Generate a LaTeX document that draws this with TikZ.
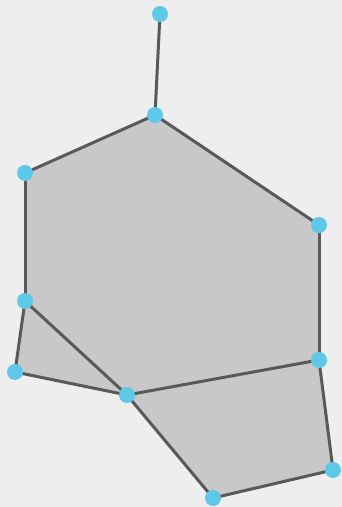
\documentclass[tikz,border=0pt]{standalone}
\begin{document}
\begin{tikzpicture}[x=1pt,y=-1pt,
  vtx/.style={circle,fill=vcol,draw=none,minimum size=16pt,inner sep=0pt},
  edge/.style={draw=ecol,line width=3pt},
  face/.style={fill=fcol,draw=none}]
\definecolor{vcol}{HTML}{5EC8E8}
\definecolor{ecol}{HTML}{595959}
\definecolor{fcol}{HTML}{C8C8C8}
\definecolor{bg}{HTML}{EEEEEE}
\fill[bg] (0,0) rectangle (342,507);
\useasboundingbox (0,0) rectangle (342,507);
\coordinate (pa) at (160,14);
\coordinate (pb) at (155,115);
\coordinate (pc) at (25,173);
\coordinate (pd) at (319,225);
\coordinate (pe) at (25,301);
\coordinate (pf) at (15,372);
\coordinate (pg) at (127,395);
\coordinate (ph) at (319,360);
\coordinate (pi) at (333,470);
\coordinate (pj) at (213,498);
\fill[face] (pb) -- (pc) -- (pe) -- (pg) -- (ph) -- (pd) -- cycle;
\fill[face] (pe) -- (pf) -- (pg) -- cycle;
\fill[face] (pg) -- (ph) -- (pi) -- (pj) -- cycle;
\draw[edge] (pa) -- (pb);
\draw[edge] (pb) -- (pc);
\draw[edge] (pb) -- (pd);
\draw[edge] (pc) -- (pe);
\draw[edge] (pd) -- (ph);
\draw[edge] (pe) -- (pf);
\draw[edge] (pf) -- (pg);
\draw[edge] (pe) -- (pg);
\draw[edge] (pg) -- (pj);
\draw[edge] (pg) -- (ph);
\draw[edge] (ph) -- (pi);
\draw[edge] (pi) -- (pj);
\node[vtx] (a) at (pa) {};
\node[vtx] (b) at (pb) {};
\node[vtx] (c) at (pc) {};
\node[vtx] (d) at (pd) {};
\node[vtx] (e) at (pe) {};
\node[vtx] (f) at (pf) {};
\node[vtx] (g) at (pg) {};
\node[vtx] (h) at (ph) {};
\node[vtx] (i) at (pi) {};
\node[vtx] (j) at (pj) {};
\end{tikzpicture}
\end{document}
